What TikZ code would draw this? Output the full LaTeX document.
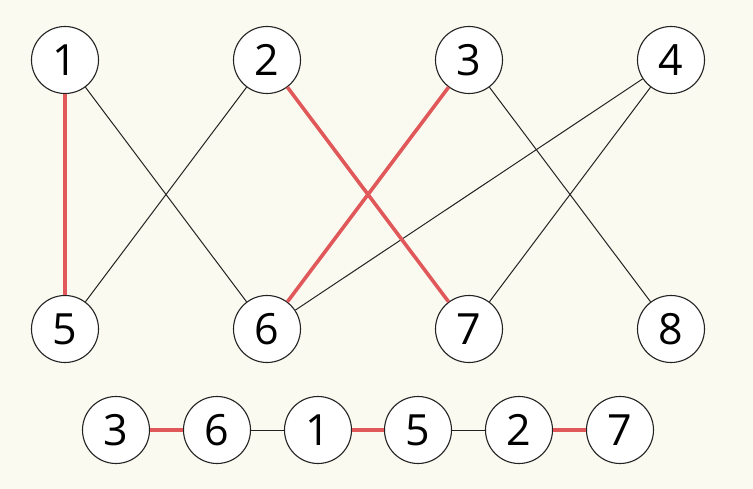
\documentclass[tikz,border=0pt]{standalone}
\usepackage{fontspec}
\setmainfont{Open Sans}
\definecolor{bgc}{HTML}{FBFAF1}
\definecolor{redc}{HTML}{E0585A}
\definecolor{linec}{HTML}{222222}
\begin{document}
\begin{tikzpicture}[x=1pt,y=-1pt,
  vert/.style={circle,draw=linec,line width=1.1pt,fill=white,minimum size=67pt,inner sep=0pt,font=\fontsize{43}{45}\selectfont},
  cvert/.style={vert,minimum size=67pt},
  redge/.style={draw=redc,line width=3.6pt},
  bedge/.style={draw=linec,line width=1pt}]
\fill[bgc] (0,0) rectangle (753,489);
\useasboundingbox (0,0) rectangle (753,489);
\node[vert] (t1) at (65,60) {1};
\node[vert] (t2) at (267,60) {2};
\node[vert] (t3) at (469,60) {3};
\node[vert] (t4) at (671,60) {4};
\node[vert] (b5) at (65,329) {5};
\node[vert] (b6) at (267,329) {6};
\node[vert] (b7) at (469,329) {7};
\node[vert] (b8) at (671,329) {8};
\node[cvert] (c3) at (116,430) {3};
\node[cvert] (c6) at (217,430) {6};
\node[cvert] (c1) at (318,430) {1};
\node[cvert] (c5) at (418,430) {5};
\node[cvert] (c2) at (519,430) {2};
\node[cvert] (c7) at (620,430) {7};
\draw[bedge] (t1) -- (b6);
\draw[bedge] (t2) -- (b5);
\draw[bedge] (t3) -- (b8);
\draw[bedge] (t4) -- (b6);
\draw[bedge] (t4) -- (b7);
\draw[redge] (t1) -- (b5);
\draw[redge] (t2) -- (b7);
\draw[redge] (t3) -- (b6);
\draw[redge] (c3) -- (c6);
\draw[bedge] (c6) -- (c1);
\draw[redge] (c1) -- (c5);
\draw[bedge] (c5) -- (c2);
\draw[redge] (c2) -- (c7);
\end{tikzpicture}
\end{document}
